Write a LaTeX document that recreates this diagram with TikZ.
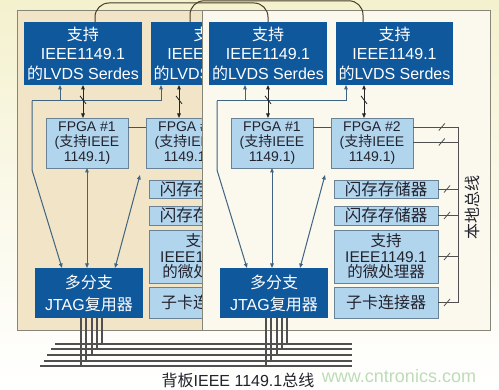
\documentclass[tikz,border=0pt]{standalone}
\usepackage{fontspec}
\setmainfont{Liberation Sans}
\newfontfamily\cjk{Noto Sans CJK SC}
\newcommand\zh[1]{{\cjk #1}}
\usetikzlibrary{arrows.meta}
\definecolor{dkblue}{RGB}{16,88,156}
\definecolor{ltblue}{RGB}{178,213,238}
\definecolor{ltborder}{RGB}{105,130,150}
\definecolor{panelL}{RGB}{242,228,198}
\definecolor{panelR}{RGB}{251,248,238}
\definecolor{panelborder}{RGB}{135,132,120}
\definecolor{arrowc}{RGB}{62,100,130}
\definecolor{busc}{RGB}{80,80,80}
\definecolor{bgtop}{RGB}{244,241,206}
\definecolor{txt}{RGB}{35,35,45}
\definecolor{curvec}{RGB}{70,60,40}
\definecolor{wm}{RGB}{188,220,182}
\tikzset{
  dk/.style={fill=dkblue, draw=none, text=white, align=center, inner sep=0pt, outer sep=0pt, anchor=north west, font=\fontsize{16}{19.5}\selectfont},
  lt/.style={fill=ltblue, draw=ltborder, line width=0.8pt, text=txt, align=center, inner sep=0pt, outer sep=0pt, anchor=north west},
  panelbox/.style={draw=panelborder, line width=0.8pt, inner sep=0pt, anchor=north west},
  arr/.style={draw=arrowc, line width=1pt},
  dbl/.style={draw=black!85, line width=1pt},
  bus/.style={draw=busc, line width=0.9pt},
  bp/.style={draw=busc, line width=1.1pt},
  curve/.style={draw=curvec, line width=1pt},
  slashmark/.pic={\draw[busc, line width=0.8pt] (-3pt,-3.5pt) -- (3pt,3.5pt);},
  bslash/.pic={\draw[black!85, line width=0.8pt] (-3pt,4pt) -- (3pt,-4pt);},
}
\newcommand\panelcontent{%
  \node[dk, minimum width=118pt, minimum height=63pt] (serA) at (209,22) {\zh{支持}\\IEEE1149.1\\\zh{的}LVDS Serdes};
  \node[dk, minimum width=117pt, minimum height=63pt] (serB) at (336,22) {\zh{支持}\\IEEE1149.1\\\zh{的}LVDS Serdes};
  \node[lt, minimum width=82pt, minimum height=50pt, font=\fontsize{14}{15}\selectfont] (fpga1) at (231,118) {FPGA \#1\\(\zh{支持}IEEE\\1149.1)};
  \node[lt, minimum width=82pt, minimum height=50pt, font=\fontsize{14}{15}\selectfont] (fpga2) at (331,118) {FPGA \#2\\(\zh{支持}IEEE\\1149.1)};
  \node[lt, minimum width=104pt, minimum height=18pt, font=\fontsize{16.5}{18}\selectfont] (flash1) at (334,180) {\zh{闪存存储器}};
  \node[lt, minimum width=104pt, minimum height=19pt, font=\fontsize{16.5}{18}\selectfont] (flash2) at (334,206) {\zh{闪存存储器}};
  \node[lt, minimum width=104pt, minimum height=53pt, font=\fontsize{15.5}{15.5}\selectfont] (mcu) at (334,230) {\zh{支持}\\IEEE1149.1\\\zh{的微处理器}};
  \node[lt, minimum width=104pt, minimum height=31pt, font=\fontsize{16}{18}\selectfont] (conn) at (334,287) {\zh{子卡连接器}};
  \node[dk, minimum width=108pt, minimum height=50pt, font=\fontsize{16}{22}\selectfont] (mux) at (220,268) {\zh{多分支}\\JTAG\zh{复用器}};
  % broadcast JTAG lines to the Serdes
  \coordinate (bc1) at (217,101);
  \coordinate (bc2) at (217,170);
  \coordinate (bcA) at (245,101);
  \coordinate (bcB) at (346,101);
  \draw[arr] (bc1) -- (bcB);
  \draw[arr,->] (bcA) -- (bcA |- serA.south);
  \draw[arr,->] (bcB) -- (bcB |- serB.south);
  \draw[arr,->] (bc1) -- (bc2) -- ([xshift=27pt]mux.north west);
  % Serdes <-> FPGA
  \coordinate (dA) at (268,0);
  \coordinate (dB) at (364,0);
  \draw[dbl,<->] (dA |- serA.south) -- coordinate[pos=0.45] (mA) (dA |- fpga1.north);
  \draw[dbl,<->] (dB |- serB.south) -- coordinate[pos=0.45] (mB) (dB |- fpga2.north);
  \pic at (mA) {bslash};
  \pic at (mB) {bslash};
  % FPGA <-> mux
  \draw[arr,<->] (fpga1.south) -- (fpga1.south |- mux.north);
  \coordinate (dg) at (325,175);
  \draw[arr,<->] ([xshift=80pt]mux.north west) -- (dg);
  % FPGA1 - FPGA2
  \draw[bus] ([yshift=-9pt]fpga1.north east) -- ([yshift=-9pt]fpga2.north west);
  % local bus
  \coordinate (lbx) at (458,0);
  \coordinate (f2a) at ([yshift=-9pt]fpga2.north east);
  \coordinate (f2b) at ([yshift=-24pt]fpga2.north east);
  \draw[bus] (f2a) -- coordinate[pos=0.64] (s1) (f2a -| lbx) -- (conn.east -| lbx) -- coordinate[pos=0.55] (s6) (conn.east);
  \draw[bus] (f2b) -- coordinate[pos=0.64] (s2) (f2b -| lbx);
  \draw[bus] (flash1.east) -- coordinate[pos=0.45] (s3) (flash1.east -| lbx);
  \draw[bus] (flash2.east) -- coordinate[pos=0.45] (s4) (flash2.east -| lbx);
  \draw[bus] (mcu.east) -- coordinate[pos=0.45] (s5) (mcu.east -| lbx);
  \foreach \s in {s1,s2,s3,s4,s5,s6} {\pic at (\s) {slashmark};}
  \node[font=\fontsize{16}{16}\selectfont, rotate=90, text=txt, inner sep=0pt] (lbl) at (472,208) {\zh{本地总线}};
}
\begin{document}
\begin{tikzpicture}[x=1pt, y=-1pt, >={Triangle[length=4.5pt,width=3.6pt]}]
\useasboundingbox (0,0) rectangle (499,390);
\shade[top color=bgtop, bottom color=white, middle color=bgtop!45] (0,0) rectangle (499,390);
% left panel
\node[panelbox, fill=panelL, minimum width=288pt, minimum height=320pt] (LP) at (17,10) {};
\begin{scope}[xshift=-185pt, name prefix=L-]
  \panelcontent
\end{scope}
% right panel
\node[panelbox, fill=panelR, minimum width=288pt, minimum height=320pt] (RP) at (202,10) {};
\begin{scope}[name prefix=R-]
  \panelcontent
\end{scope}
% top crossing links between Serdes
\coordinate (top1) at (0,3);
\coordinate (top2) at (0,0.8);
\draw[curve, rounded corners=14pt] ([xshift=71pt]L-serA.north west) |- (R-serA.north |- top1) -- (R-serA.north);
\draw[curve, rounded corners=14pt] ([xshift=39pt]L-serB.north west) |- ([xshift=27pt]R-serB.north west |- top2) -- ([xshift=27pt]R-serB.north west);
% backplane bus
\foreach \i/\xl/\yy in {1/55/344,2/51/349,3/47/355,4/44/361,5/40/366} {
  \coordinate (bp\i L) at (\xl,\yy);
  \coordinate (bp\i R) at (352,\yy);
  \draw[bp] (bp\i L) -- (bp\i R);
}
\foreach \dx/\k in {46/5,51/4,57/3,62/2,67/1} {
  \draw[bp] ([xshift=\dx pt]L-mux.south west) -- ([xshift=\dx pt]L-mux.south west |- bp\k L);
  \draw[bp] ([xshift=\dx pt]R-mux.south west) -- ([xshift=\dx pt]R-mux.south west |- bp\k L);
}
\node[font=\fontsize{16}{16}\selectfont, text=txt] (bptext) at (238,380) {\zh{背板}IEEE 1149.1\zh{总线}};
\node[font=\fontsize{18}{18}\selectfont, text=wm] (wmark) at (399,376) {www.cntronics.com};
\end{tikzpicture}
\end{document}
